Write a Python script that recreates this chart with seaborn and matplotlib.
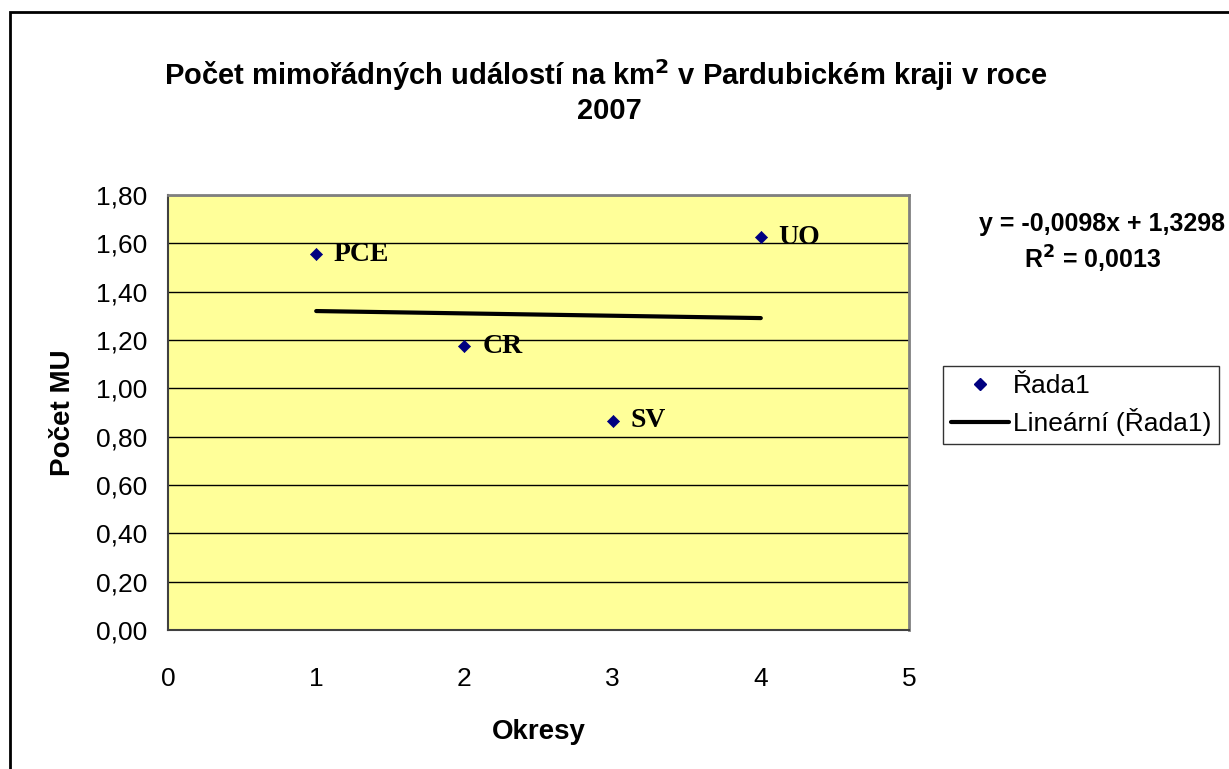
import numpy as np
import pandas as pd
import matplotlib
matplotlib.use("Agg")
import matplotlib.pyplot as plt
import seaborn as sns
from matplotlib.lines import Line2D
from matplotlib.patches import Rectangle
from matplotlib.ticker import FuncFormatter

# data
okresy = [1, 2, 3, 4]
pocet_mu = [1.555, 1.175, 0.865, 1.626]
zkratky = ["PCE", "CR", "SV", "UO"]
x_ticks = [0, 1, 2, 3, 4, 5]
y_ticks = [0.0, 0.2, 0.4, 0.6, 0.8, 1.0, 1.2, 1.4, 1.6, 1.8]
rovnice = "y = -0,0098x + 1,3298"
r2_text = "R$^{\\mathbf{2}}$ = 0,0013"

df = pd.DataFrame({"Okresy": okresy, "Pocet": pocet_mu, "Zkratka": zkratky})

# linear trend from the points
k, q = np.polyfit(df["Okresy"], df["Pocet"], 1)
trend = pd.DataFrame({"Okresy": okresy, "Trend": [k * v + q for v in okresy]})

sns.set_style("white")
plt.rcParams['font.family'] = ['Liberation Sans', 'DejaVu Sans']
plt.rcParams['text.color'] = 'black'
plt.rcParams['axes.labelcolor'] = 'black'
plt.rcParams['xtick.color'] = 'black'
plt.rcParams['ytick.color'] = 'black'

W, H = 1229, 769
fig = plt.figure(figsize=(W / 100, H / 100), dpi=100)
ax = fig.add_axes([168 / W, 1 - 630 / H, (909 - 168) / W, (630 - 195) / H])
ax.set_facecolor("#FFFF99")

sns.lineplot(data=trend, x="Okresy", y="Trend", ax=ax, color="black", linewidth=3, zorder=3)
sns.scatterplot(data=df, x="Okresy", y="Pocet", ax=ax, marker="D", s=38,
                color="#000080", edgecolor="#000080", zorder=4)

for i, row in df.iterrows():
    ax.text(row["Okresy"] + 0.12, row["Pocet"], row["Zkratka"], fontsize=20,
            fontweight="bold", family=["Liberation Serif", "DejaVu Serif"],
            va="center", ha="left", zorder=5)

ax.set_xlim(0, 5)
ax.set_ylim(0, 1.8)
ax.set_xticks(x_ticks)
ax.set_yticks(y_ticks)
ax.yaxis.set_major_formatter(FuncFormatter(lambda v, p: f"{v:.2f}".replace(".", ",")))
ax.tick_params(axis="both", which="both", direction="out", length=10, width=1,
               color="#404040", labelsize=19)
ax.tick_params(axis="y", pad=5)
ax.tick_params(axis="x", pad=17)
ax.grid(axis="y", color="black", linewidth=1)
ax.set_axisbelow(True)
for s in ["top", "right"]:
    ax.spines[s].set_color("#808080")
    ax.spines[s].set_linewidth(2)
ax.spines["left"].set_color("#404040")
ax.spines["bottom"].set_color("#404040")
ax.spines["left"].set_linewidth(1.5)
ax.spines["bottom"].set_linewidth(1.5)

ax.set_xlabel("Okresy", fontsize=20, fontweight="bold", labelpad=20)
ax.set_ylabel("Počet MU", fontsize=20, fontweight="bold", labelpad=14)

fig.text(606 / W, 1 - 75 / H, "Počet mimořádných událostí na km$^{\\mathbf{2}}$ v Pardubickém kraji v roce",
         ha="center", va="center", fontsize=21, fontweight="bold")
fig.text(609 / W, 1 - 111 / H, "2007", ha="center", va="center", fontsize=21, fontweight="bold")

fig.text(1225 / W, 1 - 224 / H, rovnice, ha="right", va="center", fontsize=18, fontweight="bold")
fig.text(1093 / W, 1 - 259 / H, r2_text, ha="center", va="center", fontsize=18, fontweight="bold")

handles = [Line2D([], [], marker="D", linestyle="none", color="#000080", markersize=6),
           Line2D([], [], color="black", linewidth=3)]
leg = fig.legend(handles, ["Řada1", "Lineární (Řada1)"], loc="upper left",
                 bbox_to_anchor=(943 / W, 1 - 366 / H), fontsize=19, frameon=True,
                 fancybox=False, edgecolor="black", handlelength=2.2, handletextpad=0.15,
                 borderpad=0.3, labelspacing=0.4, borderaxespad=0)
leg.get_frame().set_linewidth(1)

# outer chart border (only top and left are inside the picture)
fig.patches.append(Rectangle((10 / W, -0.1), 1.2, 1 - 12 / H + 0.1, transform=fig.transFigure,
                             fill=False, edgecolor="black", linewidth=2))

fig.savefig("out.png", dpi=100)
